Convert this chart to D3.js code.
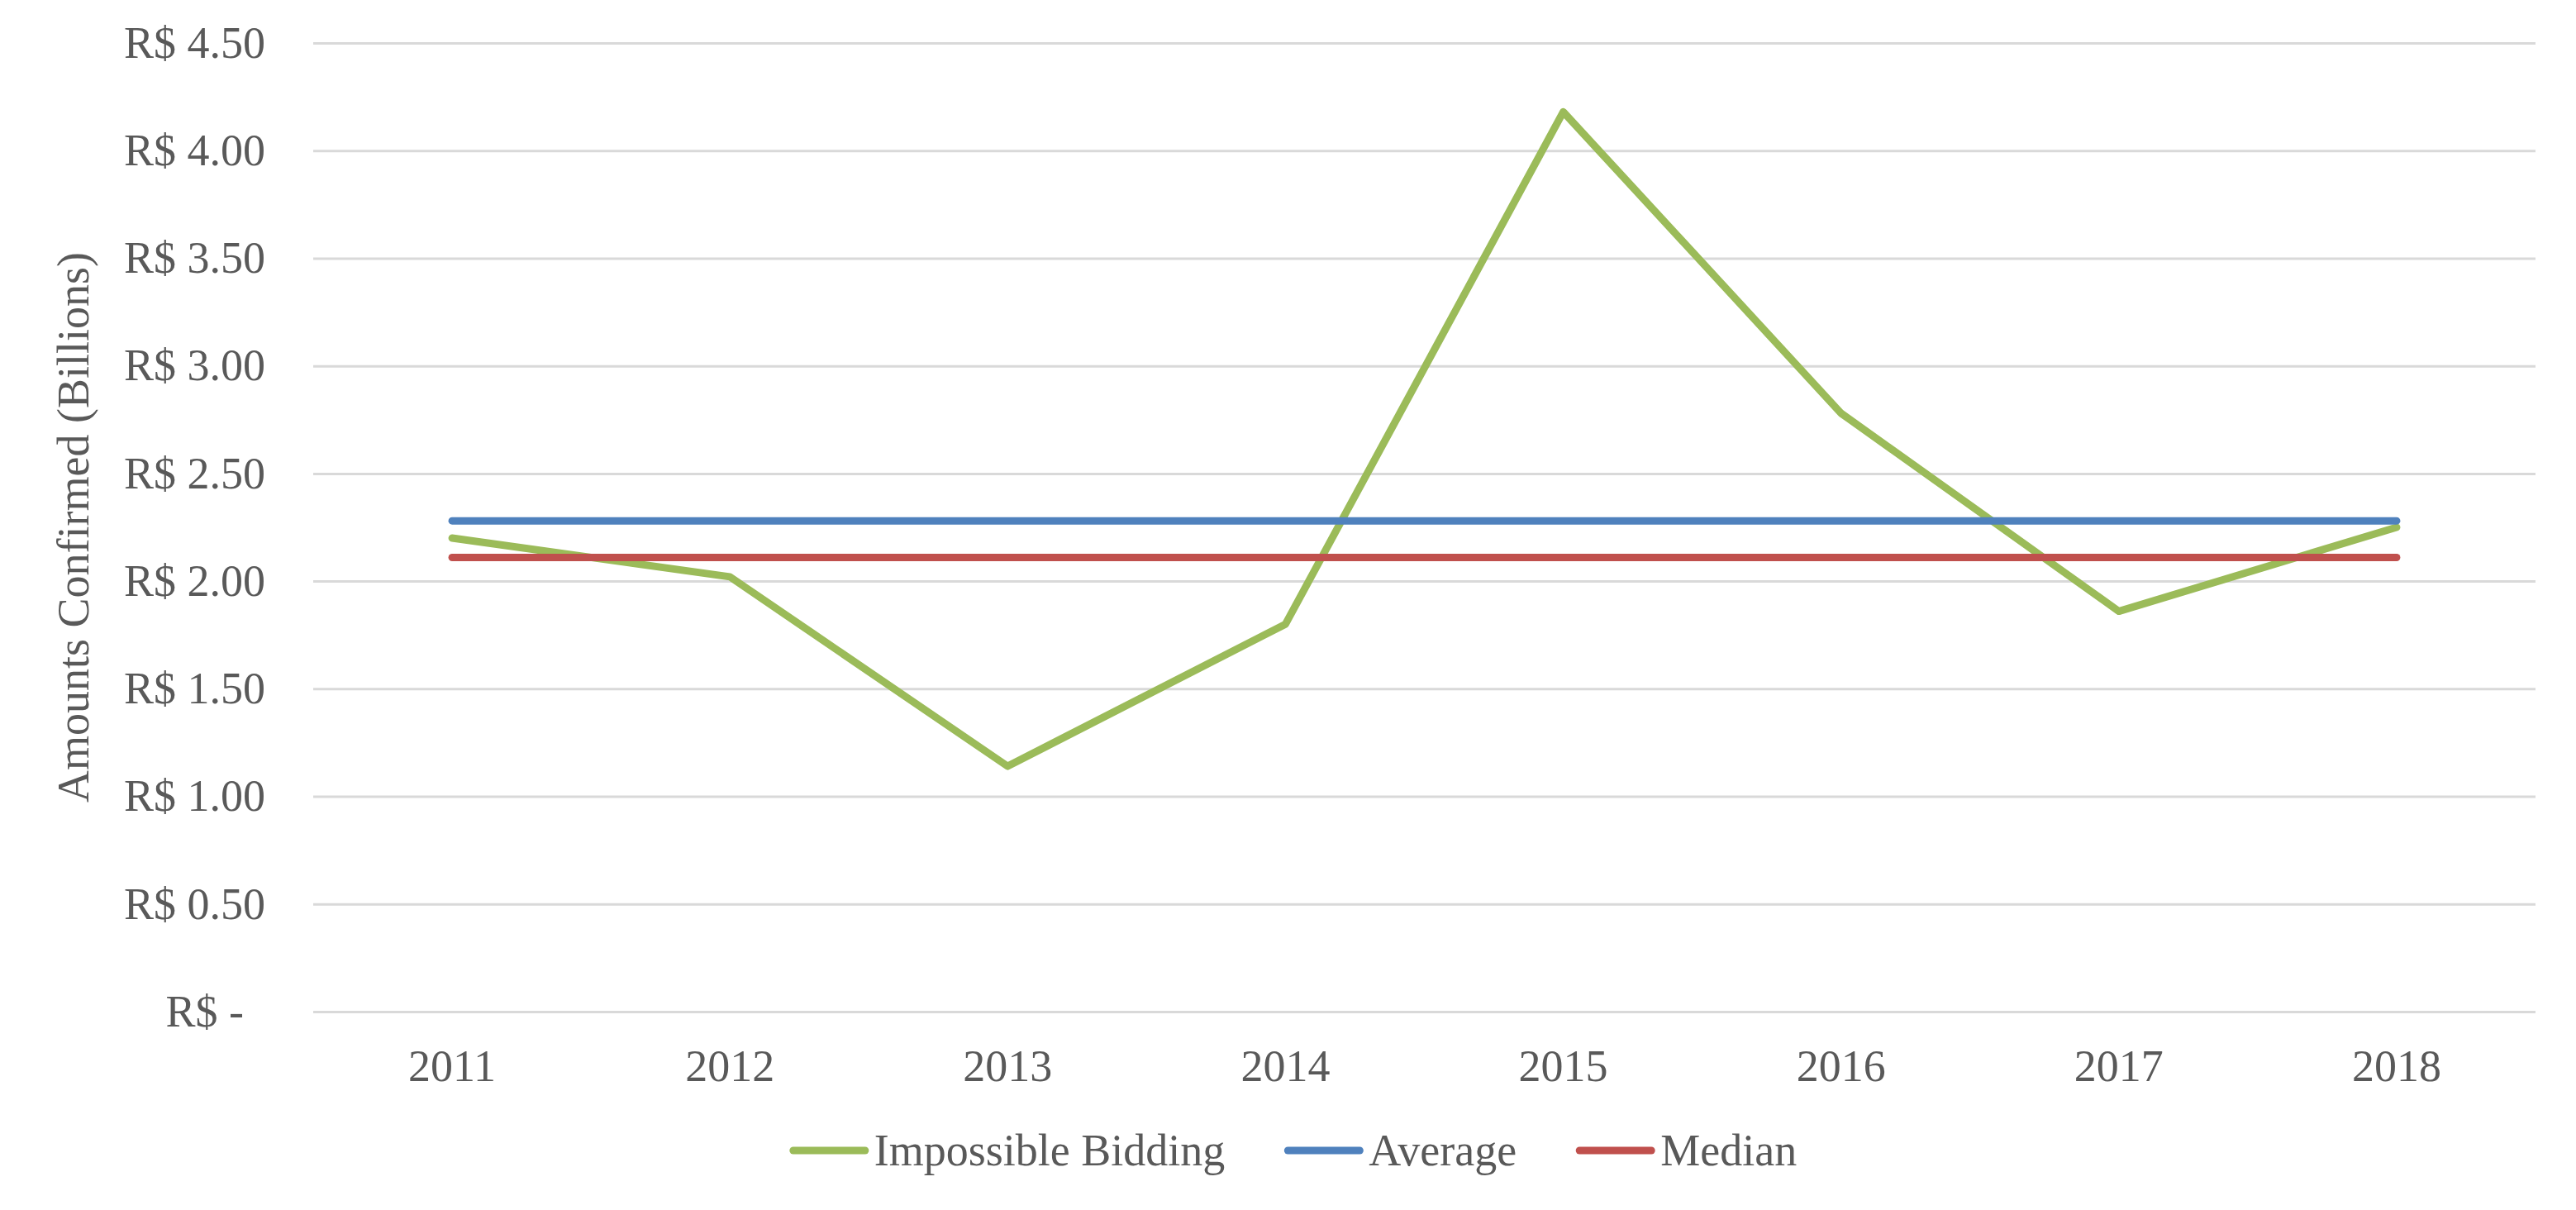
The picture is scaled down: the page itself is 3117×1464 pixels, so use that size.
<!DOCTYPE html>
<html>
<head>
<meta charset="utf-8">
<script src="https://cdn.jsdelivr.net/npm/d3@7"></script>
<style>
  body { margin: 0; background: #fff; }
  text { font-family: "Liberation Serif", "Times New Roman", serif; fill: #595959; }
</style>
</head>
<body>
<svg id="canvas"></svg>
<script>
/** Chart values */
let years = ['2011', '2012', '2013', '2014', '2015', '2016', '2017', '2018'];
let biddingValues = [2.20, 2.02, 1.14, 1.80, 4.18, 2.78, 1.86, 2.25];
let averageValues = [2.28, 2.28, 2.28, 2.28, 2.28, 2.28, 2.28, 2.28];
let medianValues = [2.11, 2.11, 2.11, 2.11, 2.11, 2.11, 2.11, 2.11];
let yTicks = [0, 0.5, 1, 1.5, 2, 2.5, 3, 3.5, 4, 4.5];
let seriesNames = ['Impossible Bidding', 'Average', 'Median'];
let seriesColors = ['#9bbb59', '#4f81bd', '#c0504d'];

let width = 3117;
let height = 1464;
let plotLeft = 379;
let plotRight = 3068;
let plotTop = 52;
let plotBottom = 1224;

let canvas = d3.select('#canvas')
    .attr('width', width)
    .attr('height', height);

let xScale = d3.scaleBand()
    .domain(years)
    .range([plotLeft, plotRight]);

let yScale = d3.scaleLinear()
    .domain([0, 4.5])
    .range([plotBottom, plotTop]);

/** Grid lines */
let grid = canvas.append('g')
    .attr('transform', `translate(${plotLeft}, 0)`)
    .call(d3.axisLeft(yScale).tickValues(yTicks).tickSize(-(plotRight - plotLeft)).tickFormat(''));
grid.select('.domain').remove();
grid.selectAll('line').attr('stroke', '#d9d9d9').attr('stroke-width', 3);

/** Y axis labels */
let yAxis = canvas.append('g')
    .attr('transform', `translate(${plotLeft}, 0)`)
    .call(d3.axisLeft(yScale)
        .tickValues(yTicks)
        .tickSize(0)
        .tickPadding(58)
        .tickFormat((d) => d === 0 ? 'R$ -' : 'R$ ' + d3.format('.2f')(d)));
yAxis.select('.domain').remove();
yAxis.selectAll('text')
    .style('font-size', '54px')
    .attr('font-family', null)
    .attr('dx', (d) => d === 0 ? -26 : 0);

/** X axis labels */
let xAxis = canvas.append('g')
    .attr('transform', `translate(0, ${plotBottom})`)
    .call(d3.axisBottom(xScale).tickSize(0).tickPadding(46));
xAxis.select('.domain').remove();
xAxis.selectAll('text').style('font-size', '54px').attr('font-family', null);

/** Axis title */
canvas.append('text')
    .attr('transform', `translate(107, ${(plotTop + plotBottom) / 2}) rotate(-90)`)
    .attr('text-anchor', 'middle')
    .style('font-size', '54px')
    .text('Amounts Confirmed (Billions)');

/** Lines */
let line = d3.line()
    .x((d, i) => xScale(years[i]) + xScale.bandwidth() / 2)
    .y((d) => yScale(d));

[biddingValues, averageValues, medianValues].forEach((values, i) => {
    canvas.append('path')
        .datum(values)
        .attr('d', line)
        .attr('fill', 'none')
        .attr('stroke', seriesColors[i])
        .attr('stroke-width', 9)
        .attr('stroke-linejoin', 'round')
        .attr('stroke-linecap', 'round');
});

/** Legend */
let legend = canvas.append('g');
let x = 0;
seriesNames.forEach((name, i) => {
    legend.append('line')
        .attr('x1', x + 4).attr('x2', x + 91)
        .attr('y1', 1392).attr('y2', 1392)
        .attr('stroke', seriesColors[i])
        .attr('stroke-width', 9)
        .attr('stroke-linecap', 'round');
    let t = legend.append('text')
        .attr('x', x + 102)
        .attr('y', 1410)
        .style('font-size', '54px')
        .text(name);
    x += 102 + t.node().getComputedTextLength() + 72;
});
let legendWidth = x - 72;
legend.attr('transform', `translate(${1565 - legendWidth / 2}, 0)`);
</script>
</body>
</html>
